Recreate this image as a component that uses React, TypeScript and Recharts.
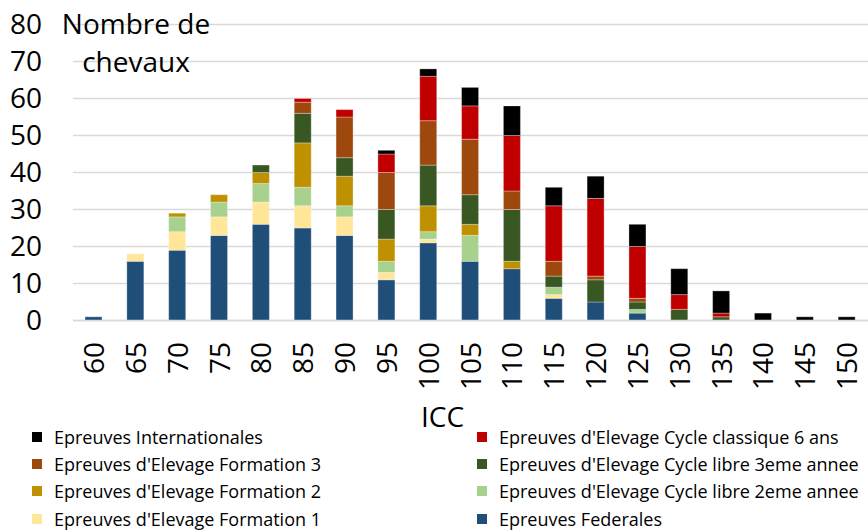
import React from "react";
import {Bar, BarChart, CartesianGrid, Label, Legend, XAxis, YAxis} from "recharts";

const categories = ["60", "65", "70", "75", "80", "85", "90", "95", "100", "105", "110", "115", "120", "125", "130", "135", "140", "145", "150"];

// stacked bottom to top
const federales = [1, 16, 19, 23, 26, 25, 23, 11, 21, 16, 14, 6, 5, 2, 0, 0, 0, 0, 0];
const formation1 = [0, 2, 5, 5, 6, 6, 5, 2, 1, 0, 0, 1, 0, 0, 0, 0, 0, 0, 0];
const cycleLibre2 = [0, 0, 4, 4, 5, 5, 3, 3, 2, 7, 0, 2, 0, 1, 0, 0, 0, 0, 0];
const formation2 = [0, 0, 1, 2, 3, 12, 8, 6, 7, 3, 2, 0, 0, 0, 0, 0, 0, 0, 0];
const cycleLibre3 = [0, 0, 0, 0, 2, 8, 5, 8, 11, 8, 14, 3, 6, 2, 3, 1, 0, 0, 0];
const formation3 = [0, 0, 0, 0, 0, 3, 11, 10, 12, 15, 5, 4, 1, 1, 0, 0, 0, 0, 0];
const cycleClassique6 = [0, 0, 0, 0, 0, 1, 2, 5, 12, 9, 15, 15, 21, 14, 4, 1, 0, 0, 0];
const internationales = [0, 0, 0, 0, 0, 0, 0, 1, 2, 5, 8, 5, 6, 6, 7, 6, 2, 1, 1];

const yTicks = [0, 10, 20, 30, 40, 50, 60, 70, 80];

const series = [
    {key: "federales", name: "Epreuves Federales", color: "#1F4E79", values: federales},
    {key: "formation1", name: "Epreuves d'Elevage Formation 1", color: "#FFE699", values: formation1},
    {key: "cycleLibre2", name: "Epreuves d'Elevage Cycle libre 2eme annee", color: "#A9D18E", values: cycleLibre2},
    {key: "formation2", name: "Epreuves d'Elevage Formation 2", color: "#BF9000", values: formation2},
    {key: "cycleLibre3", name: "Epreuves d'Elevage Cycle libre 3eme annee", color: "#385723", values: cycleLibre3},
    {key: "formation3", name: "Epreuves d'Elevage Formation 3", color: "#9E480E", values: formation3},
    {key: "cycleClassique6", name: "Epreuves d'Elevage Cycle classique 6 ans", color: "#C00000", values: cycleClassique6},
    {key: "internationales", name: "Epreuves Internationales", color: "#000000", values: internationales},
];

const data = categories.map((icc, i) => {
    const row: any = {icc};
    series.forEach(s => row[s.key] = s.values[i]);
    return row;
});

const FONT = "'Open Sans', sans-serif";

const XTick = (props: any) => {
    const {x, y, payload} = props;
    return (
        <text transform={`translate(${x},${y}) rotate(-90)`} textAnchor="end" dy="0.36em"
              fontFamily={FONT} fontSize={28} fill="#000">
            {payload.value}
        </text>
    );
};

const LegendBox = () => {
    // legend reads top to bottom in reverse stack order, two per row
    const reversed = [...series].reverse();
    return (
        <div style={{position: "relative", width: 868, height: 110, fontFamily: FONT, fontSize: 18, color: "#000"}}>
            {reversed.map((s, i) => {
                const col = i % 2;
                const row = Math.floor(i / 2);
                return (
                    <div key={s.key} style={{position: "absolute", left: col === 0 ? 32 : 477, top: 2 + row * 27.2, height: 26, display: "flex", alignItems: "center", whiteSpace: "nowrap"}}>
                        <span style={{display: "inline-block", width: 10, height: 10, background: s.color, marginRight: 12}}/>
                        <span>{s.name}</span>
                    </div>
                );
            })}
        </div>
    );
};

export default function App() {
    return (
        <div style={{position: "absolute", left: 0, top: 0, width: 868, height: 532, background: "#fff", overflow: "hidden"}}>
            <BarChart width={868} height={532} data={data} margin={{top: 24.5, right: 0, bottom: 0, left: 0}} barSize={17}>
                <CartesianGrid vertical={false} stroke="#D9D9D9" strokeWidth={1.5}/>
                <XAxis dataKey="icc" height={101.5} tickLine={false} axisLine={{stroke: "#D9D9D9", strokeWidth: 1.5}}
                       tickSize={0} tickMargin={21.5} tick={<XTick/>} interval={0}>
                    <Label content={(p: any) => {
                        const vb = p.viewBox;
                        return (
                            <text x={vb.x + vb.width / 2 - 28} y={vb.y + vb.height + 5} textAnchor="middle"
                                  fontFamily={FONT} fontSize={28} fill="#000">ICC</text>
                        );
                    }}/>
                </XAxis>
                <YAxis width={73} domain={[0, 80]} ticks={yTicks} tickLine={false} axisLine={false} tickSize={0}
                       tickMargin={31} tick={{fontFamily: FONT, fontSize: 28, fill: "#000"}} interval={0}>
                    <Label content={(p: any) => {
                        const vb = p.viewBox;
                        const cx = vb.x + vb.width + 63;
                        return (
                            <text textAnchor="middle" fontFamily={FONT} fontSize={28} fill="#000">
                                <tspan x={cx} y={vb.y + 9}>Nombre de</tspan>
                                <tspan x={cx} y={vb.y + 47}>chevaux</tspan>
                            </text>
                        );
                    }}/>
                </YAxis>
                <Legend verticalAlign="bottom" content={<LegendBox/>} wrapperStyle={{left: 0, width: 868, height: 110}}/>
                {series.map(s => (
                    <Bar key={s.key} dataKey={s.key} name={s.name} stackId="a" fill={s.color}
                         stroke="#ffffff" strokeOpacity={0.5} strokeWidth={0.6} isAnimationActive={false}/>
                ))}
            </BarChart>
        </div>
    );
}
